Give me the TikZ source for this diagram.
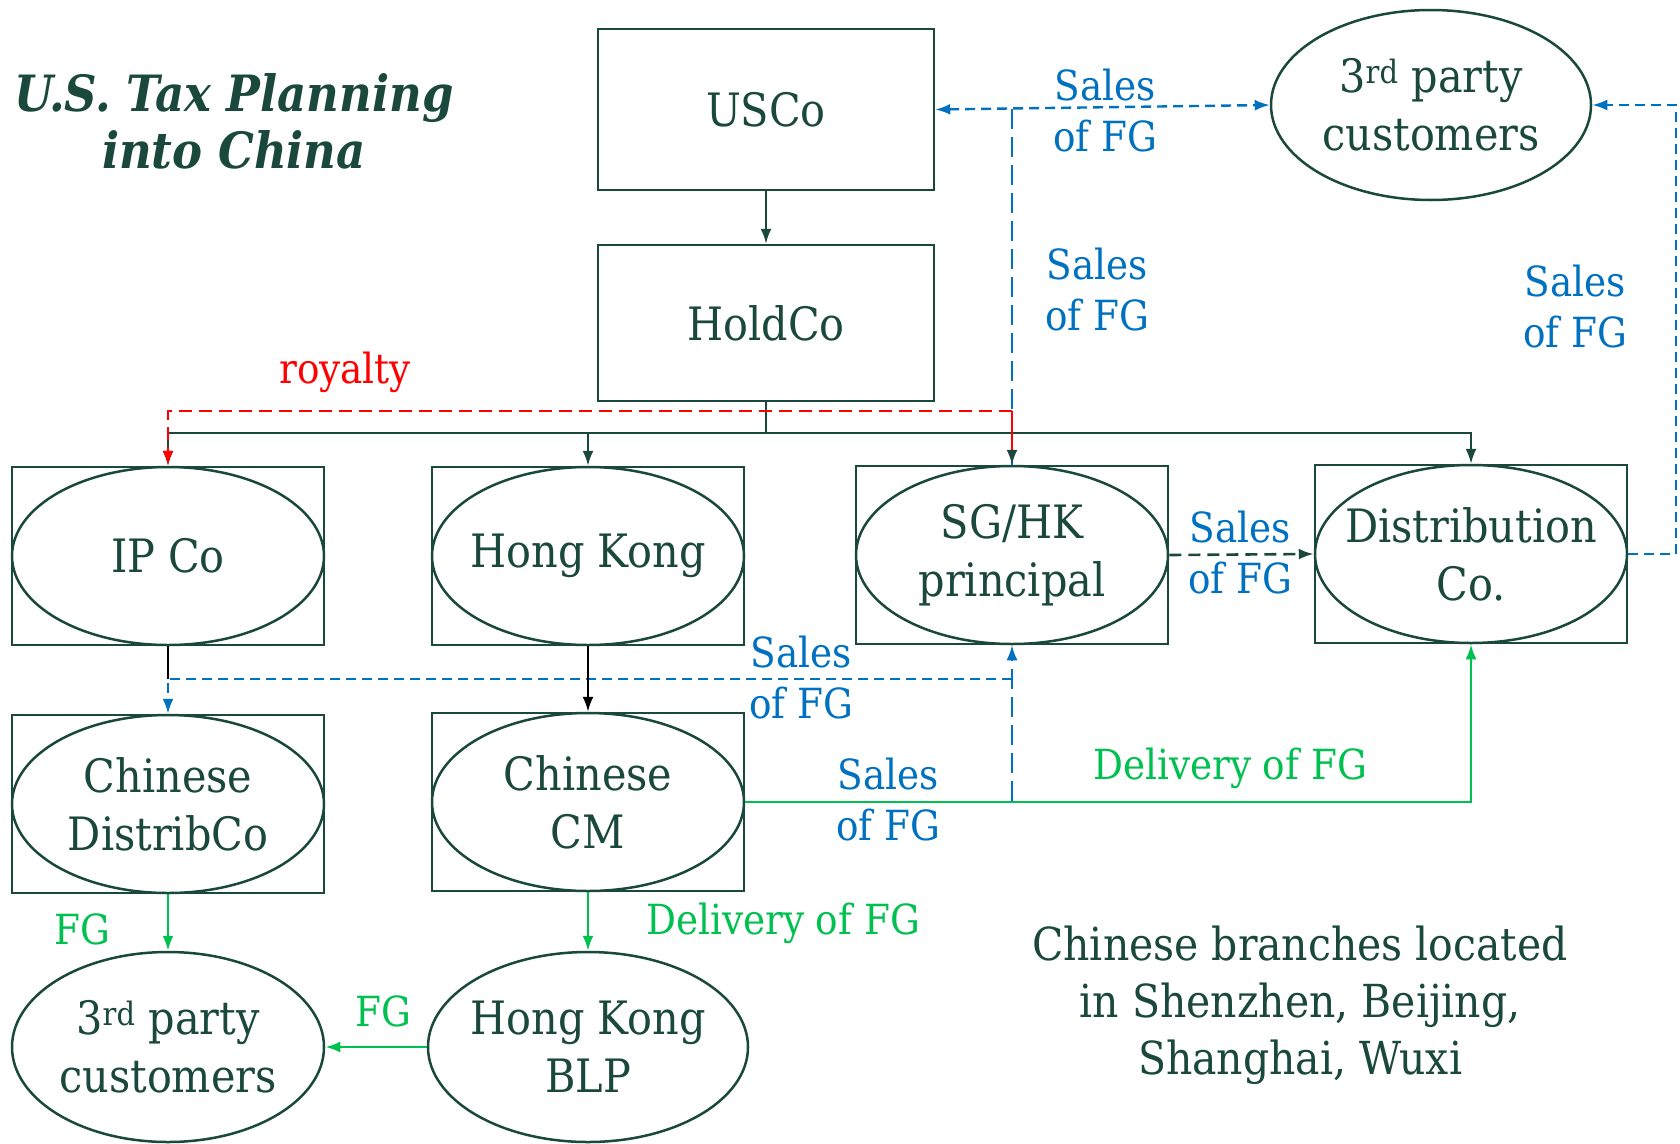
\documentclass[tikz,border=0pt]{standalone}
\usepackage{fontspec}
\setmainfont{DejaVu Serif Condensed}
\usetikzlibrary{arrows.meta,shapes.geometric,calc}
\definecolor{dg}{RGB}{26,72,60}
\definecolor{sblue}{RGB}{0,112,192}
\definecolor{sgreen}{RGB}{0,192,80}
\definecolor{sred}{RGB}{255,0,0}
\tikzset{
  rbox/.style={draw=dg, line width=2.5pt, minimum width=312pt, minimum height=178pt, inner sep=0pt},
  sbox/.style={draw=dg, line width=2.5pt, minimum width=336pt, inner sep=0pt, font=\fontsize{46}{56}\selectfont, text=dg},
  ebox/.style={ellipse, draw=dg, line width=2.5pt, minimum width=312pt, minimum height=178pt, inner sep=-40pt, align=center, font=\fontsize{46}{58}\selectfont, text=dg},
  eboxl/.style={ebox, minimum width=320pt, minimum height=190pt},
  lbl/.style={align=center, font=\fontsize{41.5}{51}\selectfont, inner sep=0pt},
  bl/.style={lbl, text=sblue},
  gl/.style={lbl, text=sgreen},
  tip/.style={-{Latex[length=15pt,width=11pt]}},
  dgline/.style={draw=dg, line width=2.2pt},
  blkline/.style={draw=black, line width=2.2pt},
  bdash/.style={draw=sblue, line width=2.4pt, dash pattern=on 10pt off 6pt},
  blong/.style={draw=sblue, line width=2.2pt, dash pattern=on 20pt off 8pt},
  gline/.style={draw=sgreen, line width=2.6pt},
  rdash/.style={draw=sred, line width=2.6pt, dash pattern=on 13pt off 7pt},
}
\begin{document}
\begin{tikzpicture}[x=1pt,y=-1pt]
\useasboundingbox (0,0) rectangle (1680,1143);
% title
\node[font=\fontsize{50}{57}\selectfont\bfseries\itshape, text=dg, align=center] (title) at (234,121) {U.S. Tax Planning\\into China};
% top boxes
\node[sbox, minimum height=161pt] (usco) at (766,109.5) {USCo};
\node[sbox, minimum height=156pt] (holdco) at (766,323) {HoldCo};
\node[eboxl] (tp) at (1431,105) {3\textsuperscript{rd} party\\customers};
% row 2
\node[rbox] (ipco) at (168,556) {};
\node[ebox] (ipcoE) at (ipco) {IP Co};
\node[rbox] (hk) at (588,556) {};
\node[ebox] (hkE) at (hk) {Hong Kong};
\node[rbox] (sghk) at (1012,555) {};
\node[ebox] (sghkE) at (sghk) {SG/HK\\principal};
\node[rbox] (dist) at (1471,554) {};
\node[ebox] (distE) at (dist) {Distribution\\Co.};
% row 3
\node[rbox] (cdist) at (168,804) {};
\node[ebox] (cdistE) at (cdist) {Chinese\\DistribCo};
\node[rbox] (ccm) at (588,802) {};
\node[ebox] (ccmE) at (ccm) {Chinese\\CM};
% row 4
\node[eboxl, minimum width=312pt] (tpb) at (168,1047) {3\textsuperscript{rd} party\\customers};
\node[eboxl] (blp) at (588,1047) {Hong Kong\\BLP};
% coordinates
\coordinate (b0) at (766,433);
\coordinate (r1) at (1012,411);
\coordinate (t1) at (1012,108);
\coordinate (m1) at (1012,679);
\coordinate (m2) at (1012,801);
% blue lines
\draw[bdash, {Latex[length=15pt,width=11pt]}-{Latex[length=15pt,width=11pt]}] (usco.east) -- (tp.west);
\draw[blong] (sghk.north) -- (t1);
\draw[bdash, tip] (dist.east) -- ++(48,0) |- (tp.east);
\draw[blong, tip] (m2) -- (sghk.south);
% structure
\draw[dgline, tip] (usco) -- (holdco);
\draw[dgline] (holdco.south) -- (b0);
\draw[dgline, tip] (b0) -| (ipco.north);
\draw[dgline, tip] (b0) -| (hk.north);
\draw[dgline, tip] (b0) -| (sghk.north);
\draw[dgline, tip] (b0) -| (dist.north);
% royalty
\draw[rdash, tip] (r1) -| (ipco.north);
\draw[sred, line width=2.5pt] (r1) -- ($(sghk.north)+(0,-15)$);
% IP Co to DistribCo
\draw[blkline] (ipco.south) -- (ipco.south |- m1);
\draw[bdash, tip] (m1) -| (cdist.north);
\draw[blkline, tip] (hk.south) -- (ccm.north);
% SG/HK to Distribution
\draw[dgline, line width=2.6pt, dash pattern=on 12pt off 7pt, tip] (sghk.east) -- (dist.west);
% green
\draw[gline, tip] (ccm.east) -| (dist.south);
\draw[gline, tip] (cdist.south) -- (tpb.north);
\draw[gline, tip] (ccm.south) -- (blp.north);
\draw[gline, tip] (blp.west) -- (tpb.east);
% labels
\node[lbl, text=sred] (lroy) at (345,372) {royalty};
\node[bl] (l1) at (1105,111) {Sales\\of FG};
\node[bl] (l2) at (1097,290) {Sales\\of FG};
\node[bl] (l3) at (1575,307) {Sales\\of FG};
\node[bl] (l4) at (1240,553) {Sales\\of FG};
\node[bl] (l5) at (801,678) {Sales\\of FG};
\node[bl] (l6) at (888,800) {Sales\\of FG};
\node[gl] (l7) at (1230,768) {Delivery of FG};
\node[gl] (l8) at (783,923) {Delivery of FG};
\node[gl] (l9) at (82,929) {FG};
\node[gl] (l10) at (383,1011) {FG};
\node[align=center, text=dg, font=\fontsize{45.5}{57}\selectfont] (note) at (1300,1005) {Chinese branches located\\in Shenzhen, Beijing,\\Shanghai, Wuxi};
\end{tikzpicture}
\end{document}
